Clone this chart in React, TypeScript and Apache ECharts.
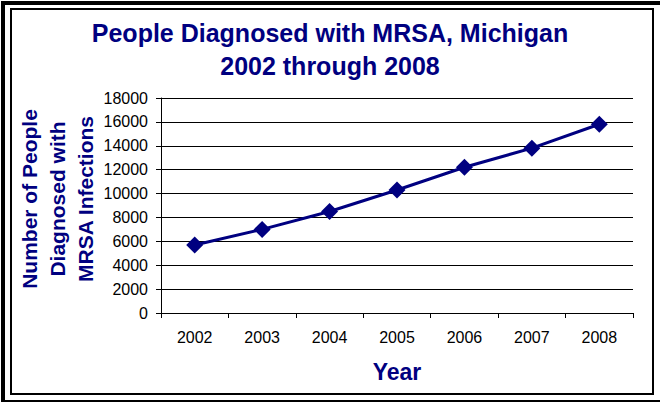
import React, { useEffect, useRef } from "react";
import * as echarts from "echarts";

const years = ["2002", "2003", "2004", "2005", "2006", "2007", "2008"];
const diagnosed = [5700, 7000, 8500, 10300, 12200, 13800, 15800];
const titleLines = ["People Diagnosed with MRSA, Michigan", "2002 through 2008"];
const yTitleLines = ["Number of People", "Diagnosed with", "MRSA Infections"];
const xTitle = "Year";

const NAVY = "#000080";
const FONT = "Liberation Sans, Arial, sans-serif";

export default function App() {
  const ref = useRef<HTMLDivElement>(null);
  useEffect(() => {
    if (!ref.current) return;
    const chart = echarts.init(ref.current, undefined, { renderer: "svg" });
    chart.setOption({
      animation: false,
      backgroundColor: "#ffffff",
      title: {
        text: titleLines.join("\n"),
        left: "center",
        top: 16,
        padding: 0,
        textStyle: {
          fontFamily: FONT,
          fontWeight: "bold",
          fontSize: 25,
          lineHeight: 33,
          color: NAVY,
        },
      },
      graphic: [
        {
          type: "rect",
          silent: true,
          shape: { x: 3, y: 3, width: 680, height: 399 },
          style: { fill: "none", stroke: "#000", lineWidth: 4 },
        },
        {
          type: "rect",
          silent: true,
          shape: { x: 11, y: 9, width: 642, height: 385 },
          style: { fill: "none", stroke: "#000", lineWidth: 2 },
        },
        {
          type: "text",
          silent: true,
          x: 57,
          y: 199,
          rotation: Math.PI / 2,
          style: {
            text: yTitleLines.join("\n"),
            align: "center",
            verticalAlign: "middle",
            fontFamily: FONT,
            fontWeight: "bold",
            fontSize: 21,
            lineHeight: 28,
            fill: NAVY,
          },
        },
      ],
      grid: { left: 161, right: 27, top: 98, bottom: 89, containLabel: false },
      xAxis: {
        type: "category",
        data: years,
        boundaryGap: true,
        name: xTitle,
        nameLocation: "middle",
        nameGap: 47,
        nameTextStyle: {
          fontFamily: FONT,
          fontWeight: "bold",
          fontSize: 23,
          color: NAVY,
        },
        axisLine: { show: true, lineStyle: { color: "#000", width: 1 } },
        axisTick: { show: true, alignWithLabel: false, length: 5, lineStyle: { color: "#000" } },
        axisLabel: {
          margin: 16,
          fontFamily: FONT,
          fontSize: 16,
          color: "#000",
        },
        splitLine: { show: false },
      },
      yAxis: {
        type: "value",
        min: 0,
        max: 18000,
        interval: 2000,
        axisLine: { show: true, lineStyle: { color: "#000", width: 1 } },
        axisTick: { show: true, length: 5, lineStyle: { color: "#000" } },
        axisLabel: {
          margin: 13,
          fontFamily: FONT,
          fontSize: 16,
          color: "#000",
          formatter: (v: number) => String(v),
        },
        splitLine: { show: true, lineStyle: { color: "#000", width: 1 } },
      },
      series: [
        {
          type: "line",
          data: diagnosed,
          smooth: false,
          symbol: "diamond",
          symbolSize: 17,
          lineStyle: { color: NAVY, width: 3 },
          itemStyle: { color: NAVY },
        },
      ],
    });
    return () => chart.dispose();
  }, []);
  return (
    <div
      ref={ref}
      style={{ position: "fixed", left: 0, top: 0, width: 660, height: 402 }}
    />
  );
}
